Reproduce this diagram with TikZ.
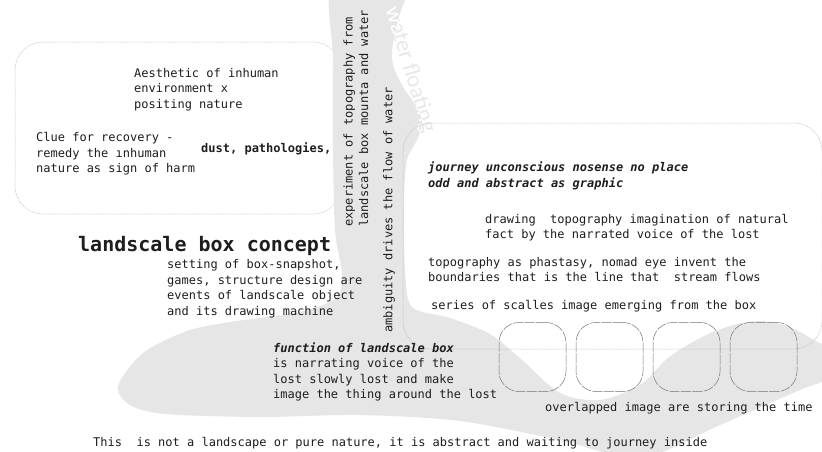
\documentclass[tikz,border=0pt]{standalone}
\usepackage{fontspec}
\setmainfont{DejaVu Sans Mono}
\newfontfamily\floatfont{Carlito}
\definecolor{rivergrey}{HTML}{E6E6E6}
\definecolor{inkgrey}{HTML}{1E1E1E}
% outline of the grey stream
\def\riverpath{plot[smooth cycle, tension=0.5] coordinates {
  (333,-20) (333,60) (333,150) (335,230) (342,275) (336,298) (300,312)
  (230,322) (187,331) (143,353) (118,386) (130,405) (165,414) (260,417)
  (360,415) (460,421) (560,440) (640,458) (720,425) (800,390) (845,372)
  (845,348) (822,344) (790,327) (760,321) (730,326) (700,338) (668,358)
  (640,385) (600,400) (560,393) (522,360) (490,334) (450,318) (412,307)
  (405,270) (404,200) (407,160) (418,138) (422,120) (414,103) (403,87)
  (394,68) (392,50) (398,20) (405,-20)}}
\begin{document}
\begin{tikzpicture}[x=1pt, y=-1pt, line join=round, line cap=round,
  txt/.style={inner sep=0pt, anchor=west, align=left, text=inkgrey, font=\fontsize{12}{15.5}\selectfont},
  dotbox/.style={draw=gray!55, densely dotted, line width=0.5pt, rounded corners=28pt},
  imgbox/.style={draw=gray!90!black, line width=0.5pt, dash pattern=on 10pt off 1.5pt, rounded corners=20pt, minimum width=67pt, minimum height=69pt, inner sep=0pt},
  floattxt/.style={rotate=-73, font=\floatfont\fontsize{23}{23}\selectfont}]
  \useasboundingbox (0,0) rectangle (822,451);
  \clip (0,0) rectangle (822,451);
  \fill[white] (0,0) rectangle (822,451);
  \draw[dotbox] (15,42) rectangle (341,214);
  \fill[rivergrey] \riverpath;
  \node (float) [floattxt, text=gray!18] at (410,70) {water floating};
  \begin{scope}
    \clip \riverpath;
    \node (floatw) [floattxt, text=white] at (410,70) {water floating};
  \end{scope}
  \draw[dotbox] (403,123) rectangle (822,349);
  \foreach \i in {0,...,3}
    \node (img\i) [imgbox] at (532.5+77*\i,357) {};
  % left side
  \node (aes) [txt] at (134,89.5) {Aesthetic of inhuman\\environment x\\positing nature};
  \node (clue) [txt] at (36,154) {Clue for recovery -\\remedy the ınhuman\\nature as sign of harm};
  \node (dust) [txt, font=\fontsize{12}{15.5}\selectfont\bfseries] at (201,149) {dust, pathologies,};
  \node (concept) [txt, font=\fontsize{20}{24}\selectfont\bfseries] at (78,246) {landscale box concept};
  \node (setting) [txt] at (167,288.5) {setting of box-snapshot,\\games, structure design are\\events of landscale object\\and its drawing machine};
  \node (exper) [txt, rotate=90] at (356,227) {experiment of topography from\\landscale box mounta and water};
  \node (ambig) [txt, rotate=90] at (389,333) {ambiguity drives the flow of water};
  % right box
  \node (journey) [txt, font=\fontsize{12}{15.5}\selectfont\bfseries\itshape] at (428,176) {journey unconscious nosense no place\\odd and abstract as graphic};
  \node (drawing) [txt] at (485,227.5) {drawing\ \ topography imagination of natural\\fact by the narrated voice of the lost};
  \node (topo) [txt] at (428,269.5) {topography as phastasy, nomad eye invent the\\boundaries that is the line that\ \ stream flows};
  \node (series) [txt] at (431,306) {series of scalles image emerging from the box};
  % bottom
  \node (func) [txt] at (273,372) {{\bfseries\itshape function of landscale box}\\is narrating voice of the\\lost slowly lost and make\\image the thing around the lost};
  \node (overl) [txt] at (545,408) {overlapped image are storing the time};
  \node (this) [txt] at (93,443) {This\ \ is not a landscape or pure nature, it is abstract and waiting to journey inside};
\end{tikzpicture}
\end{document}
